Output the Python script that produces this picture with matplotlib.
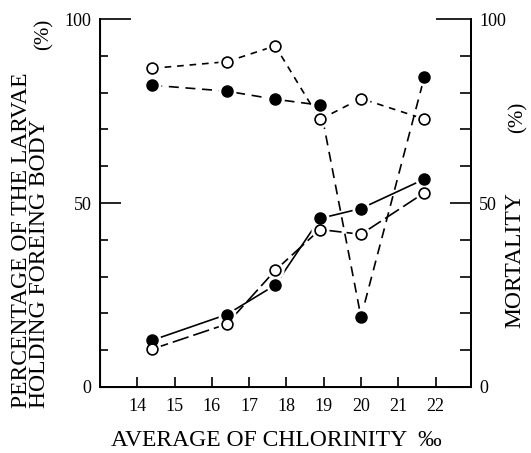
import matplotlib
matplotlib.use("Agg")
import matplotlib.pyplot as plt

# chlorinity (per mil) of each sampling point
chlorinity = [14.4, 16.4, 17.7, 18.9, 20.0, 21.7]

# upper pair of curves (dashed)
upper_open = [86.6, 88.4, 92.7, 72.7, 78.4, 72.8]
upper_filled = [82.0, 80.4, 78.2, 76.6, 19.0, 84.3]

# lower pair of curves
lower_filled = [12.7, 19.7, 27.7, 45.8, 48.5, 56.5]
lower_open = [10.3, 17.1, 31.7, 42.8, 41.5, 52.8]

x_ticks = [14, 15, 16, 17, 18, 19, 20, 21, 22]
y_major = [0, 50, 100]
y_minor = [10, 20, 30, 40, 60, 70, 80, 90]

FONT = ["Liberation Serif", "DejaVu Serif"]
plt.rcParams["font.family"] = FONT

fig = plt.figure(figsize=(5.31, 4.53), dpi=100)
ax = fig.add_axes([0.1883, 0.1457, 0.6987, 0.8123])
ax.set_xlim(13.0, 22.95)
ax.set_ylim(0, 100)

series = [
    (upper_open, "white", (0, (4, 3.5))),
    (upper_filled, "black", (0, (6, 4))),
    (lower_filled, "black", "-"),
    (lower_open, "white", (0, (10, 3))),
]
for vals, face, ls in series:
    ax.plot(chlorinity, vals, color="black", lw=1.2, linestyle=ls, zorder=1)
    # white halo so the lines stop short of the markers
    ax.plot(chlorinity, vals, "o", ms=12, color="white", zorder=2)
    ax.plot(chlorinity, vals, "o", ms=7.8, mfc=face, mec="black", mew=1.2, zorder=3)

ax.spines["top"].set_visible(False)
for s in ["left", "bottom", "right"]:
    ax.spines[s].set_linewidth(1.4)

ax.set_xticks(x_ticks)
ax.tick_params(axis="x", direction="in", length=7, width=1.2, labelsize=13, pad=8)

ax.set_yticks(y_major)
ax.set_yticks(y_minor, minor=True)
ax.tick_params(axis="y", which="major", direction="in", length=15, width=1.2, labelsize=13, pad=6)
ax.tick_params(axis="y", which="minor", direction="in", length=6, width=1.2)
ax.yaxis.get_major_ticks()[2].tick1line.set_markersize(22)

ax2 = ax.twinx()
ax2.set_ylim(0, 100)
ax2.spines["top"].set_visible(False)
ax2.spines["right"].set_linewidth(1.4)
ax2.set_yticks(y_major)
ax2.set_yticks(y_minor, minor=True)
ax2.tick_params(axis="y", which="major", direction="in", length=15, width=1.2, labelsize=13, pad=6)
ax2.tick_params(axis="y", which="minor", direction="in", length=8, width=1.2)
ax2.yaxis.get_major_ticks()[2].tick2line.set_markersize(25)

fig.text(276 / 531, 0.016, "AVERAGE OF CHLORINITY  ‰", fontsize=17,
         ha="center", va="baseline")

fig.text(0.057, 0.10, "PERCENTAGE OF THE LARVAE\nHOLDING FOREING BODY", rotation=90,
         fontsize=17, ha="center", va="bottom", multialignment="left", linespacing=0.82)
fig.text(0.083, 0.925, "(%)", rotation=90, fontsize=15, ha="center", va="center")

fig.text(0.970, 0.425, "MORTALITY", rotation=90, fontsize=17, ha="center", va="center")
fig.text(0.975, 0.74, "(%)", rotation=90, fontsize=15, ha="center", va="center")

fig.savefig("out.png", dpi=100)
